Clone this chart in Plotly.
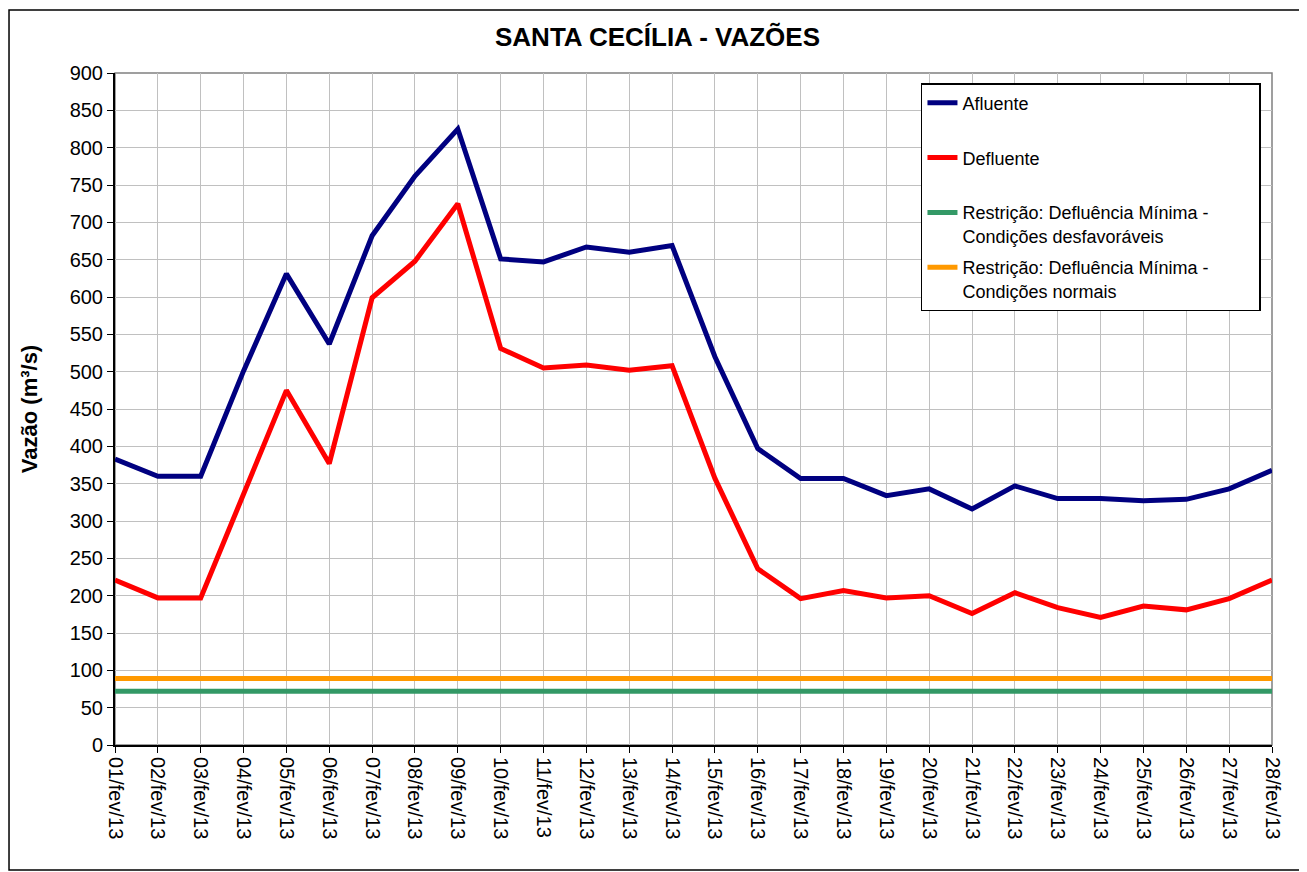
import plotly.graph_objects as go

dates = [f"{d:02d}/fev/13" for d in range(1, 29)]
afluente = [383, 360, 360, 501, 631, 537, 682, 762, 825, 651, 647, 667, 660, 669,
            520, 397, 357, 357, 334, 343, 316, 347, 330, 330, 327, 329, 343, 368]
defluente = [221, 197, 197, 338, 475, 377, 599, 648, 725, 531, 505, 509, 502, 508,
             357, 236, 196, 207, 197, 200, 176, 204, 184, 171, 186, 181, 196, 221]
restr_desfav = [72] * 28
restr_normal = [89] * 28

pad = "\u00a0" * 9
series = [
    ("Afluente<br>\u00a0", afluente, "#000080"),
    ("Defluente<br>\u00a0", defluente, "#FF0000"),
    ("Restrição: Defluência Mínima -" + pad + "<br>Condições desfavoráveis", restr_desfav, "#339966"),
    ("Restrição: Defluência Mínima -" + pad + "<br>Condições normais", restr_normal, "#FF9900"),
]

fig = go.Figure()
for i in [2, 3, 1, 0]:
    name, vals, col = series[i]
    fig.add_trace(go.Scatter(
        x=dates, y=vals, name=name, mode="lines",
        line=dict(color=col, width=5), legendgroup=f"g{i}", legendrank=i + 1,
    ))

fig.update_layout(
    width=1299, height=864,
    paper_bgcolor="white", plot_bgcolor="white",
    margin=dict(l=107, r=35, t=65, b=127, autoexpand=False),
    font=dict(family="Liberation Sans, Arial, sans-serif", color="black"),
    title=dict(text="<b>SANTA CECÍLIA - VAZÕES</b>", x=0.5, xanchor="center",
               y=1 - 29 / 864, yanchor="middle", font=dict(size=26)),
    showlegend=True,
    legend=dict(x=0.6966, y=0.985, xanchor="left", yanchor="top",
                bgcolor="white", bordercolor="black", borderwidth=1.5,
                font=dict(size=18), tracegroupgap=5, valign="top",
                traceorder="grouped"),
)
fig.update_xaxes(
    type="category", range=[0, 27], tickangle=90,
    showgrid=True, gridcolor="#C0C0C0", gridwidth=1,
    showline=True, linecolor="black", linewidth=2,
    ticks="outside", ticklen=6, tickcolor="black",
    tickfont=dict(size=20), zeroline=False,
)
fig.update_yaxes(
    range=[0, 900], dtick=50,
    showgrid=True, gridcolor="#C0C0C0", gridwidth=1,
    showline=True, linecolor="black", linewidth=2,
    ticks="outside", ticklen=6, tickcolor="black",
    tickfont=dict(size=20), zeroline=False,
    title=dict(text="<b>Vazão (m³/s)</b>", font=dict(size=22), standoff=26),
)
fig.add_shape(type="rect", xref="paper", yref="paper", x0=0, x1=1, y0=0, y1=1,
              line=dict(color="#808080", width=1.5), layer="below")
fig.add_shape(type="rect", xref="paper", yref="paper",
              x0=-0.0916, x1=1.0259, y0=-0.186, y1=1.0938,
              line=dict(color="black", width=1.5))

fig.write_html("out.html")
